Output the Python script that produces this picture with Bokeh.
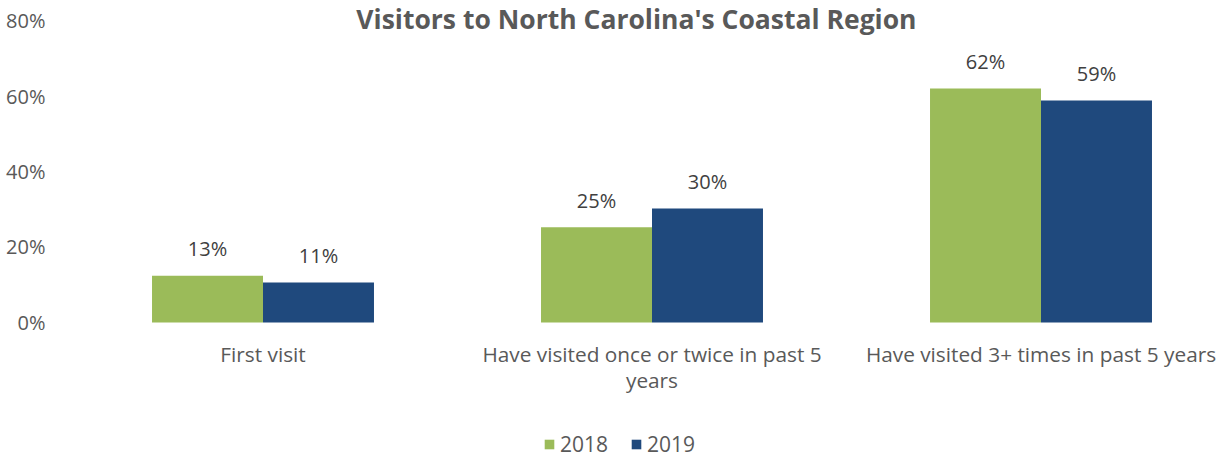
from bokeh.plotting import figure
from bokeh.models import ColumnDataSource, Range1d, FixedTicker, Legend, LegendItem, Label
from bokeh.core.properties import value
from bokeh.embed import file_html
from bokeh.resources import INLINE
import numpy as np

categories = ["First visit", "Have visited once or twice in past 5\nyears", "Have visited 3+ times in past 5 years"]
series_names = ["2018", "2019"]
values_2018 = [12.4, 25.2, 62.0]
values_2019 = [10.6, 30.2, 58.8]
labels_2018 = ["13%", "25%", "62%"]
labels_2019 = ["11%", "30%", "59%"]
y_ticks = [0, 20, 40, 60, 80]
title_text = "Visitors to North Carolina's Coastal Region"

GREEN = "#9BBB59"
BLUE = "#1F497D"
GRAY = "#595959"
FONT = "Open Sans"

bar_w = 0.2853
idx = np.arange(len(categories))

p = figure(width=1228, height=458, output_backend="svg", toolbar_location=None,
           x_range=Range1d(-0.5, 2.482), y_range=Range1d(-36.03, 85.30),
           min_border_left=68, min_border_right=0, min_border_top=0, min_border_bottom=0)
p.outline_line_color = None
p.grid.visible = False

s18 = ColumnDataSource(dict(x=idx - bar_w / 2, top=values_2018, lab=labels_2018))
s19 = ColumnDataSource(dict(x=idx + bar_w / 2, top=values_2019, lab=labels_2019))
r18 = p.vbar(x="x", top="top", width=bar_w, source=s18, fill_color=GREEN, line_color=None)
r19 = p.vbar(x="x", top="top", width=bar_w, source=s19, fill_color=BLUE, line_color=None)

for s in (s18, s19):
    p.text(x="x", y="top", text="lab", source=s, text_align="center", text_baseline="alphabetic",
           y_offset=-27, text_font=value(FONT), text_font_size="20px", text_color="#404040")

# axes
p.xaxis.fixed_location = 0
p.xaxis.ticker = FixedTicker(ticks=list(idx))
p.xaxis.major_label_overrides = {int(i): c for i, c in zip(idx, categories)}
p.xaxis.axis_line_color = None
p.xaxis.major_tick_line_color = None
p.xaxis.minor_tick_line_color = None
p.xaxis.major_tick_out = 0
p.xaxis.major_tick_in = 0
p.xaxis.major_label_text_font = FONT
p.xaxis.major_label_text_font_size = "20.8px"
p.xaxis.major_label_text_color = GRAY
p.xaxis.major_label_text_line_height = 0.9
p.xaxis.major_label_standoff = 18

p.yaxis.ticker = FixedTicker(ticks=y_ticks)
p.yaxis.major_label_overrides = {t: f"{t}%" for t in y_ticks}
p.yaxis.axis_line_color = None
p.yaxis.major_tick_line_color = None
p.yaxis.minor_tick_line_color = None
p.yaxis.major_tick_out = 0
p.yaxis.major_tick_in = 0
p.yaxis.major_label_text_font = FONT
p.yaxis.major_label_text_font_size = "20px"
p.yaxis.major_label_text_color = GRAY
p.yaxis.major_label_standoff = 23

title = Label(x=0.96, y=85.30, text=title_text, text_align="center", text_baseline="top",
              text_font=FONT, text_font_size="26.5px", text_font_style="bold", text_color=GRAY)
p.add_layout(title)

legend = Legend(items=[LegendItem(label=series_names[0], renderers=[r18]),
                       LegendItem(label=series_names[1], renderers=[r19])],
                orientation="horizontal", location=(475, 0),
                label_text_font=FONT, label_text_font_size="21px", label_text_color=GRAY,
                glyph_width=12, glyph_height=12, label_standoff=5, spacing=22,
                border_line_color=None, background_fill_color=None, background_fill_alpha=0,
                padding=0, margin=0)
p.add_layout(legend, "center")

open("out.html", "w").write(file_html(p, INLINE))
